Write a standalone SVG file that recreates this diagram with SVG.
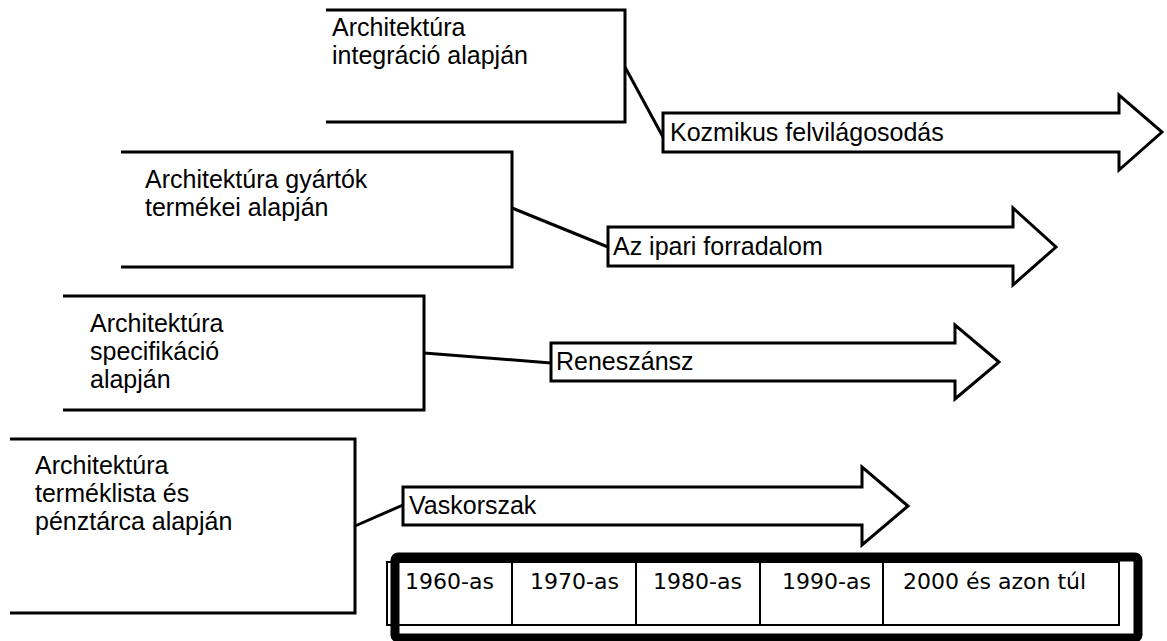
<svg xmlns="http://www.w3.org/2000/svg" width="1167" height="641" viewBox="0 0 1167 641">
  <style>
    .frame { fill: none; stroke: #000; stroke-width: 3; stroke-linejoin: miter; }
    .arrow { fill: #fff; stroke: #000; stroke-width: 3; stroke-linejoin: miter; }
    .link { fill: none; stroke: #000; stroke-width: 3; }
    .lbl { font-family: "Liberation Sans", Arial, sans-serif; font-size: 25px; fill: #000; }
    .era { font-family: "DejaVu Sans", Tahoma, sans-serif; font-size: 22px; fill: #000; }
    .cell { fill: none; stroke: #000; stroke-width: 2; }
  </style>
  <rect width="1167" height="641" fill="#fff"/>

  <!-- connectors from each architecture box to its era arrow -->
  <g id="connectors">
    <line class="link" x1="625" y1="67" x2="663" y2="137"/>
    <line class="link" x1="512" y1="208" x2="608" y2="247"/>
    <line class="link" x1="424" y1="353" x2="551" y2="363"/>
    <line class="link" x1="355" y1="526" x2="403" y2="505"/>
  </g>

  <!-- architecture boxes (open on the left side) -->
  <g id="box-integracio">
    <path class="frame" d="M326,10 H625 V122 H326"/>
    <text class="lbl" x="332" y="36">Architektúra</text>
    <text class="lbl" x="332" y="64">integráció alapján</text>
  </g>
  <g id="box-gyartok">
    <path class="frame" d="M121,152 H512 V267 H121"/>
    <text class="lbl" x="145" y="188">Architektúra gyártók</text>
    <text class="lbl" x="145" y="216">termékei alapján</text>
  </g>
  <g id="box-specifikacio">
    <path class="frame" d="M63,296 H424 V410 H63"/>
    <text class="lbl" x="90" y="332">Architektúra</text>
    <text class="lbl" x="90" y="360">specifikáció</text>
    <text class="lbl" x="90" y="388">alapján</text>
  </g>
  <g id="box-termeklista">
    <path class="frame" d="M10,439 H355 V613 H10"/>
    <text class="lbl" x="35" y="474">Architektúra</text>
    <text class="lbl" x="35" y="502">terméklista és</text>
    <text class="lbl" x="35" y="530">pénztárca alapján</text>
  </g>

  <!-- era arrows -->
  <g id="arrow-kozmikus">
    <path class="arrow" d="M663,113 H1119 V95 L1162,132 L1119,170 V152 H663 Z"/>
    <text class="lbl" x="670" y="141">Kozmikus felvilágosodás</text>
  </g>
  <g id="arrow-ipari">
    <path class="arrow" d="M608,227 H1013 V208 L1056,247 L1013,285 V266 H608 Z"/>
    <text class="lbl" x="613" y="255">Az ipari forradalom</text>
  </g>
  <g id="arrow-reneszansz">
    <path class="arrow" d="M551,343 H955 V325 L999,362 L955,399 V381 H551 Z"/>
    <text class="lbl" x="556" y="370">Reneszánsz</text>
  </g>
  <g id="arrow-vaskorszak">
    <path class="arrow" d="M403,487 H862 V467 L908,506 L862,545 V525 H403 Z"/>
    <text class="lbl" x="409" y="514">Vaskorszak</text>
  </g>

  <!-- decade timeline table -->
  <g id="timeline">
    <rect class="cell" x="387" y="562" width="732" height="63"/>
    <line class="cell" x1="512" y1="562" x2="512" y2="625"/>
    <line class="cell" x1="636" y1="562" x2="636" y2="625"/>
    <line class="cell" x1="760" y1="562" x2="760" y2="625"/>
    <line class="cell" x1="883" y1="562" x2="883" y2="625"/>
    <rect x="395" y="557" width="743" height="81" rx="3" fill="none" stroke="#000" stroke-width="9"/>
    <text class="era" x="405" y="589">1960-as</text>
    <text class="era" x="530" y="589">1970-as</text>
    <text class="era" x="653" y="589">1980-as</text>
    <text class="era" x="782" y="589">1990-as</text>
    <text class="era" x="903" y="589">2000 és azon túl</text>
  </g>
</svg>
